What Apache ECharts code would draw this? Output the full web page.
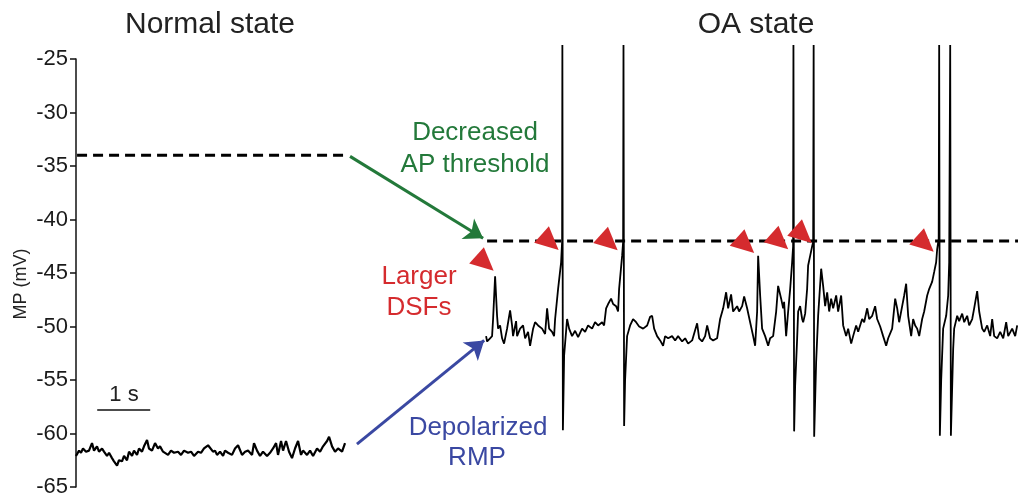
<!DOCTYPE html>
<html>
<head>
<meta charset="utf-8">
<script src="https://cdn.jsdelivr.net/npm/echarts@6/dist/echarts.min.js"></script>
<style>
  html, body { margin: 0; padding: 0; background: #fff; }
  #chart { width: 1018px; height: 498px; }
</style>
</head>
<body>
<div id="chart"></div>
<script>
// membrane potential traces, [time (s), MP (mV)]
var normalTrace = [
  [0.000,-62.1],[0.057,-61.6],[0.094,-61.8],[0.132,-61.4],[0.189,-61.7],[0.245,-61.6],[0.302,-60.9],[0.340,-61.6],
  [0.396,-61.2],[0.434,-61.7],[0.491,-61.4],[0.528,-61.7],[0.585,-62.1],[0.623,-61.8],[0.679,-62.3],[0.717,-62.6],
  [0.774,-63.0],[0.811,-62.5],[0.868,-62.6],[0.906,-62.1],[0.962,-62.5],[1.000,-61.7],[1.057,-62.1],[1.094,-61.6],
  [1.151,-62.0],[1.189,-61.4],[1.245,-61.7],[1.283,-61.2],[1.340,-60.6],[1.377,-61.4],[1.434,-61.6],[1.491,-60.9],
  [1.547,-61.4],[1.585,-61.2],[1.642,-61.7],[1.679,-61.6],[1.736,-62.0],[1.792,-61.6],[1.849,-61.8],[1.925,-61.7],
  [1.981,-62.0],[2.038,-61.6],[2.113,-61.8],[2.170,-61.7],[2.226,-62.1],[2.302,-61.7],[2.358,-61.8],[2.415,-61.4],
  [2.491,-61.1],[2.585,-61.7],[2.623,-61.6],[2.660,-62.0],[2.717,-61.7],[2.774,-62.1],[2.811,-61.6],[2.868,-61.8],
  [2.943,-62.0],[3.000,-61.4],[3.057,-61.1],[3.132,-62.0],[3.189,-61.7],[3.245,-61.6],[3.321,-62.0],[3.358,-60.9],
  [3.415,-61.6],[3.472,-62.1],[3.528,-61.7],[3.604,-62.1],[3.660,-61.8],[3.717,-61.4],[3.774,-60.9],[3.811,-62.0],
  [3.868,-60.7],[3.906,-61.6],[3.962,-60.7],[4.019,-61.7],[4.075,-62.3],[4.132,-61.4],[4.189,-60.7],[4.245,-62.0],
  [4.283,-61.6],[4.358,-62.0],[4.415,-61.6],[4.472,-62.1],[4.547,-61.4],[4.604,-61.7],[4.660,-61.2],[4.736,-60.7],
  [4.774,-60.3],[4.830,-61.2],[4.887,-61.7],[4.943,-61.4],[5.019,-61.7],[5.075,-60.9]
];

var oaTrace = [
  [7.736,-50.9],[7.755,-51.4],[7.811,-51.1],[7.849,-50.9],[7.868,-49.3],[7.906,-45.3],[7.943,-49.0],[7.962,-50.2],
  [8.000,-49.9],[8.038,-51.1],[8.075,-51.6],[8.132,-50.2],[8.189,-48.5],[8.226,-49.9],[8.245,-50.9],[8.302,-49.5],
  [8.321,-50.9],[8.377,-50.2],[8.434,-49.9],[8.472,-51.1],[8.528,-50.5],[8.566,-51.8],[8.623,-50.2],[8.660,-49.6],
  [8.717,-49.9],[8.792,-50.2],[8.849,-50.7],[8.887,-48.3],[8.925,-50.2],[8.981,-50.5],[9.019,-50.9],[9.038,-49.3],
  [9.094,-46.5],[9.151,-44.0],[9.170,-42.1],[9.175,-23.7],[9.185,-59.7],[9.208,-52.7],[9.264,-49.3],[9.302,-50.2],
  [9.358,-50.9],[9.415,-50.4],[9.472,-51.0],[9.547,-50.2],[9.604,-50.5],[9.660,-49.9],[9.736,-50.2],[9.792,-49.6],
  [9.849,-49.9],[9.925,-49.6],[9.962,-49.9],[10.000,-48.3],[10.038,-47.9],[10.094,-47.4],[10.132,-47.9],[10.189,-48.1],
  [10.226,-48.6],[10.245,-46.5],[10.302,-43.4],[10.321,-42.1],[10.328,-23.7],[10.340,-59.3],[10.358,-55.0],[10.396,-50.9],
  [10.453,-49.9],[10.509,-49.3],[10.566,-49.6],[10.623,-50.0],[10.698,-50.2],[10.774,-49.9],[10.830,-49.1],[10.868,-49.0],
  [10.906,-50.2],[10.962,-50.9],[11.019,-51.3],[11.075,-51.8],[11.113,-50.9],[11.170,-51.1],[11.245,-50.9],[11.302,-51.3],
  [11.358,-50.9],[11.434,-51.4],[11.491,-51.1],[11.547,-51.6],[11.623,-51.3],[11.660,-51.4],[11.717,-49.7],[11.755,-51.1],
  [11.811,-51.4],[11.868,-50.9],[11.906,-49.9],[11.962,-51.1],[12.019,-51.3],[12.094,-51.1],[12.151,-49.3],[12.208,-48.3],
  [12.264,-46.8],[12.302,-48.3],[12.358,-47.0],[12.396,-48.6],[12.472,-48.1],[12.509,-48.6],[12.566,-48.1],[12.604,-47.2],
  [12.660,-48.3],[12.717,-49.6],[12.774,-50.9],[12.811,-51.8],[12.849,-48.6],[12.868,-43.4],[12.906,-47.1],[12.943,-50.2],
  [13.000,-50.9],[13.057,-51.8],[13.094,-51.1],[13.151,-50.9],[13.208,-48.6],[13.245,-46.2],[13.302,-47.4],[13.340,-48.3],
  [13.358,-47.7],[13.396,-50.9],[13.434,-48.6],[13.472,-46.5],[13.509,-44.0],[13.528,-42.5],[13.534,-23.7],[13.547,-59.8],
  [13.566,-55.5],[13.604,-51.1],[13.623,-48.6],[13.660,-48.1],[13.698,-49.3],[13.717,-49.6],[13.755,-48.8],[13.792,-46.5],
  [13.811,-44.3],[13.849,-43.4],[13.887,-42.5],[13.906,-42.1],[13.915,-23.7],[13.925,-60.3],[13.962,-53.3],[14.000,-49.0],
  [14.057,-44.6],[14.094,-46.2],[14.132,-48.1],[14.170,-46.8],[14.208,-48.6],[14.245,-47.4],[14.283,-48.3],[14.340,-47.1],
  [14.377,-48.6],[14.434,-47.1],[14.472,-49.9],[14.528,-50.9],[14.566,-50.2],[14.623,-51.6],[14.660,-50.9],[14.717,-49.9],
  [14.755,-50.5],[14.830,-49.3],[14.868,-49.6],[14.925,-48.3],[14.962,-49.3],[15.019,-49.0],[15.075,-48.1],[15.113,-49.3],
  [15.170,-50.0],[15.226,-50.9],[15.283,-51.8],[15.321,-51.1],[15.396,-50.2],[15.453,-47.4],[15.491,-48.3],[15.528,-49.6],
  [15.585,-48.1],[15.623,-47.1],[15.660,-46.0],[15.698,-49.0],[15.755,-50.9],[15.792,-49.3],[15.830,-49.9],[15.868,-50.2],
  [15.906,-50.9],[15.962,-49.3],[16.000,-48.6],[16.057,-47.1],[16.094,-46.5],[16.151,-45.8],[16.189,-44.9],[16.226,-44.0],
  [16.245,-42.8],[16.274,-41.8],[16.283,-23.7],[16.296,-60.2],[16.321,-55.0],[16.358,-50.2],[16.415,-49.0],[16.453,-47.1],
  [16.472,-44.0],[16.491,-23.7],[16.504,-60.2],[16.547,-52.1],[16.566,-50.2],[16.623,-49.0],[16.660,-49.5],[16.717,-48.8],
  [16.755,-49.6],[16.811,-49.0],[16.849,-49.9],[16.906,-49.3],[16.943,-48.3],[17.000,-46.7],[17.038,-48.6],[17.094,-50.2],
  [17.132,-50.5],[17.189,-49.9],[17.245,-50.9],[17.283,-49.3],[17.321,-50.9],[17.377,-51.1],[17.434,-50.5],[17.491,-51.1],
  [17.547,-49.6],[17.585,-50.9],[17.660,-50.2],[17.717,-50.9],[17.755,-49.9]
];

// AP thresholds (dashed)
var normalThreshold = [[0.02,-34],[5.13,-34]];
var oaThreshold = [[7.755,-42],[17.77,-42]];

// red markers on the depolarizing fluctuations
var dsfMarks = [[7.717,-44.07],[8.943,-42.12],[10.057,-42.16],[12.632,-42.40],[13.274,-42.07],[13.717,-41.47],[16.019,-42.30]];

// annotation arrows [from, to]
var thresholdArrow = [[5.17,-34.1],[7.68,-41.75]];
var rmpArrow = [[5.30,-61.0],[7.70,-51.3]];

// 1 s scale bar
var scaleBar = [[0.40,-57.8],[1.40,-57.8]];

var yTicks = { min: -65, max: -25, step: 5 };

var FONT = '"Liberation Sans", Arial, sans-serif';
var myChart = echarts.init(document.getElementById('chart'));

var option = {
  backgroundColor: '#fff',
  animation: false,
  grid: { left: 76, right: 0, top: 59, bottom: 9 },
  xAxis: { type: 'value', min: 0, max: 17.77, show: false },
  yAxis: {
    type: 'value', min: yTicks.min, max: yTicks.max, interval: yTicks.step,
    axisLine: { show: true, lineStyle: { color: '#111', width: 1.5 } },
    axisTick: { show: true, length: 6, lineStyle: { color: '#111', width: 1.5 } },
    axisLabel: { fontSize: 22, color: '#1a1a1a', fontFamily: FONT, margin: 8 },
    splitLine: { show: false }
  },
  series: [
    { type: 'line', data: normalTrace, showSymbol: false, clip: false,
      lineStyle: { color: '#000', width: 2.2 } },
    { type: 'line', data: oaTrace, showSymbol: false, clip: false,
      lineStyle: { color: '#000', width: 1.8 } },
    { type: 'line', data: normalThreshold, showSymbol: false,
      lineStyle: { color: '#000', width: 3, type: [10, 6] } },
    { type: 'line', data: oaThreshold, showSymbol: false,
      lineStyle: { color: '#000', width: 3, type: [10, 6] } },
    { type: 'line', data: scaleBar, showSymbol: false,
      lineStyle: { color: '#111', width: 1.5 } },
    { type: 'lines', coordinateSystem: 'cartesian2d', polyline: false,
      symbol: ['none', 'arrow'], symbolSize: 18,
      lineStyle: { color: '#23793a', width: 3, opacity: 1 },
      data: [{ coords: thresholdArrow }] },
    { type: 'lines', coordinateSystem: 'cartesian2d', polyline: false,
      symbol: ['none', 'arrow'], symbolSize: 18,
      lineStyle: { color: '#3a48a2', width: 3, opacity: 1 },
      data: [{ coords: rmpArrow }] },
    { type: 'scatter', data: dsfMarks, symbol: 'triangle', symbolSize: [22, 23],
      symbolRotate: -132, itemStyle: { color: '#d52b2e', opacity: 1 }, z: 5 }
  ],
  graphic: [
    { type: 'text', x: 210, y: 25, style: { text: 'Normal state', font: '30px ' + FONT, fill: '#222', textAlign: 'center', textVerticalAlign: 'middle' } },
    { type: 'text', x: 756, y: 25, style: { text: 'OA state', font: '30px ' + FONT, fill: '#222', textAlign: 'center', textVerticalAlign: 'middle' } },
    { type: 'text', x: 21, y: 284, rotation: Math.PI / 2, style: { text: 'MP (mV)', font: '18px ' + FONT, fill: '#222', textAlign: 'center', textVerticalAlign: 'middle' } },
    { type: 'text', x: 475, y: 133, style: { text: 'Decreased', font: '26px ' + FONT, fill: '#23793a', textAlign: 'center', textVerticalAlign: 'middle' } },
    { type: 'text', x: 475, y: 165, style: { text: 'AP threshold', font: '26px ' + FONT, fill: '#23793a', textAlign: 'center', textVerticalAlign: 'middle' } },
    { type: 'text', x: 419, y: 277, style: { text: 'Larger', font: '26px ' + FONT, fill: '#d52b2e', textAlign: 'center', textVerticalAlign: 'middle' } },
    { type: 'text', x: 419, y: 308, style: { text: 'DSFs', font: '26px ' + FONT, fill: '#d52b2e', textAlign: 'center', textVerticalAlign: 'middle' } },
    { type: 'text', x: 478, y: 428, style: { text: 'Depolarized', font: '26px ' + FONT, fill: '#3a48a2', textAlign: 'center', textVerticalAlign: 'middle' } },
    { type: 'text', x: 477, y: 458, style: { text: 'RMP', font: '26px ' + FONT, fill: '#3a48a2', textAlign: 'center', textVerticalAlign: 'middle' } },
    { type: 'text', x: 124, y: 395, style: { text: '1 s', font: '22px ' + FONT, fill: '#222', textAlign: 'center', textVerticalAlign: 'middle' } }
  ]
};
myChart.setOption(option);
</script>
</body>
</html>
